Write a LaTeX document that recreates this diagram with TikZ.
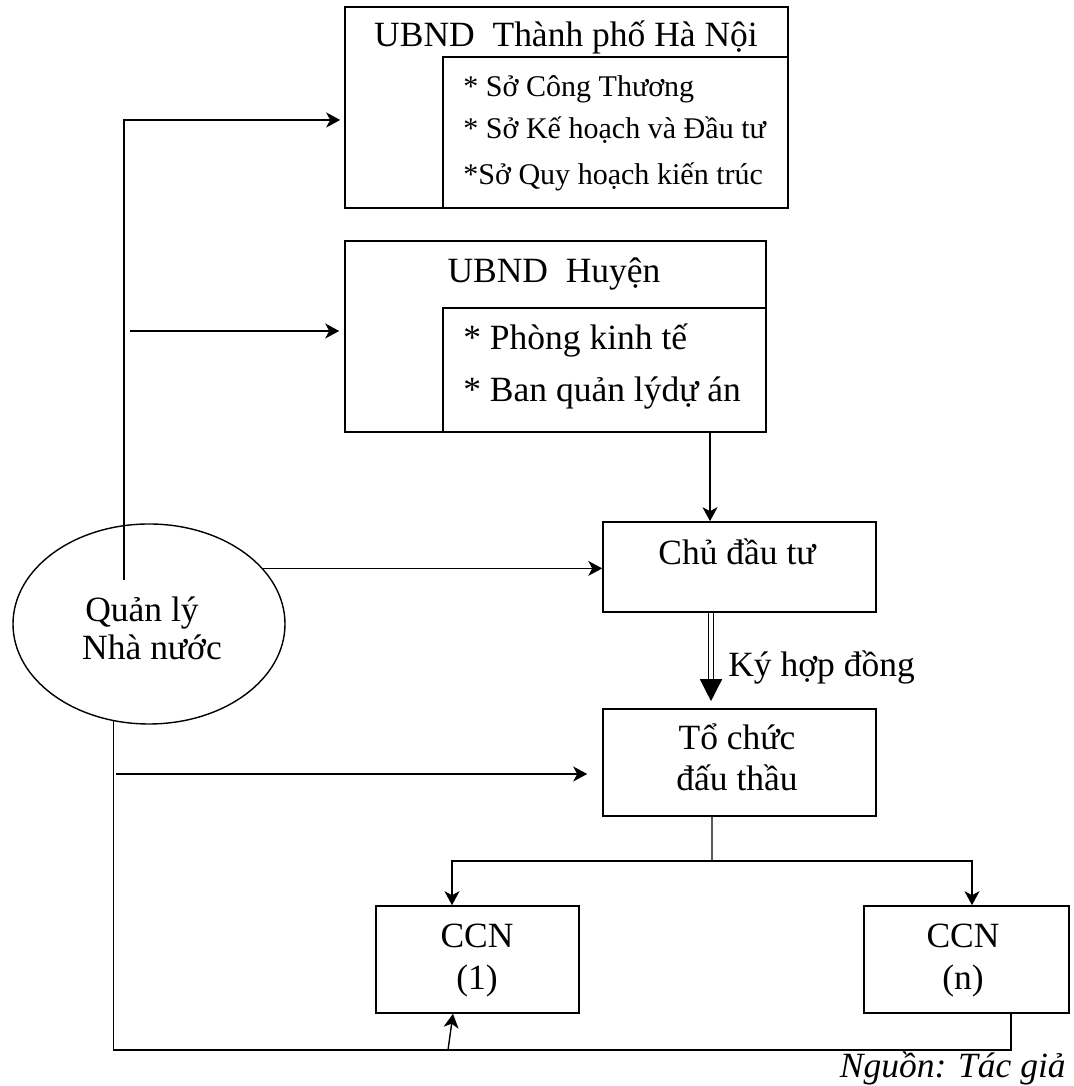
\documentclass[tikz,border=0pt]{standalone}
\usepackage{fontspec}
\setmainfont{Liberation Serif}
\usetikzlibrary{positioning}
\usetikzlibrary{shapes.geometric, arrows.meta}

\begin{document}
\begin{tikzpicture}[
  box/.style={draw, line width=0.9pt, rectangle, inner sep=0pt},
  txt/.style={font=\fontsize{20.2}{24}\selectfont, anchor=base, inner sep=0pt},
  subtxt/.style={font=\fontsize{17.1}{20}\selectfont, anchor=base west, inner sep=0pt},
  ln/.style={line width=0.8pt},
  arr/.style={line width=0.8pt, -{Stealth[length=0.28cm,width=0.3cm,inset=0.08cm]}},
  dblarr/.style={line width=0.8pt, double, double distance=0.08cm, -{Triangle[length=0.44cm,width=0.44cm]}}]
\useasboundingbox (0,0) rectangle (21.46,21.72);

% boxes
\node[box, minimum width=8.86cm, minimum height=4.02cm] (tp) at (11.33,19.57) {};
\node[box, minimum width=6.9cm, minimum height=3.02cm] (tpsub) at (12.31,19.07) {};
\node[box, minimum width=8.42cm, minimum height=3.82cm] (hy) at (11.11,14.99) {};
\node[box, minimum width=6.46cm, minimum height=2.48cm] (hysub) at (12.09,14.32) {};
\node[box, minimum width=5.46cm, minimum height=1.8cm] (chu) at (14.79,10.38) {};
\node[box, minimum width=5.46cm, minimum height=2.14cm] (tc) at (14.79,6.47) {};
\node[box, minimum width=4.06cm, minimum height=2.14cm] (ccn1) at (9.55,2.53) {};
\node[box, minimum width=4.1cm, minimum height=2.14cm] (ccnn) at (19.33,2.53) {};
\node[draw, line width=0.8pt, ellipse, minimum width=5.44cm, minimum height=4cm, inner sep=0pt] (ql) at (2.98,9.24) {};

% texts
\node[txt] (tptitle) at (11.32,20.78) {UBND\ \ Thành phố Hà Nội};
\node[subtxt] (tp1) at (9.26,19.78) {* Sở Công Thương};
\node[subtxt] (tp2) at (9.26,18.94) {* Sở Kế hoạch và Đầu tư};
\node[subtxt] (tp3) at (9.26,18.02) {*Sở Quy hoạch kiến trúc};
\node[txt] (hytitle) at (11.08,16.06) {UBND\ \ Huyện};
\node[txt, anchor=base west] (hy1) at (9.26,14.72) {* Phòng kinh tế};
\node[txt, anchor=base west] (hy2) at (9.26,13.68) {* Ban quản lýdự án};
\node[txt] (chutxt) at (14.74,10.42) {Chủ đầu tư};
\node[txt, anchor=base west] (kyhd) at (14.56,8.18) {Ký hợp đồng};
\node[txt] (tc1) at (14.74,6.72) {Tổ chức};
\node[txt] (tc2) at (14.74,5.90) {đấu thầu};
\node[txt] (ccn1a) at (9.54,2.76) {CCN};
\node[txt] (ccn1b) at (9.54,1.92) {(1)};
\node[txt] (ccnna) at (19.26,2.76) {CCN};
\node[txt] (ccnnb) at (19.26,1.92) {(n)};
\node[txt] (ql1) at (2.84,9.28) {Quản lý};
\node[txt] (ql2) at (3.04,8.52) {Nhà nước};
\node[txt, anchor=base east, font=\fontsize{20.2}{24}\selectfont\itshape] (src) at (21.32,0.16) {Nguồn: Tác giả};

% connectors
\coordinate (q1) at (2.48,10.12);
\coordinate (h1) at (2.6,15.1);
\coordinate (h2) at (2.32,6.24);
\coordinate (split) at (14.24,4.5);
\coordinate (bot) at (0,0.72);
\coordinate (c1) at (8.96,0.72);
\draw[arr, shorten >=0.08cm] (q1) |- ([yshift=-0.25cm]tp.west);
\draw[arr, shorten >=0.1cm] (h1) -- (h1 -| hy.west);
\draw[arr] (ql.26) -- (ql.26 -| chu.west);
\draw[arr, shorten >=0.3cm] (h2) -- (h2 -| tc.west);
\draw[arr] ([xshift=-0.59cm]chu.north |- hy.south) -- ([xshift=-0.59cm]chu.north);
\draw[dblarr, shorten >=0.14cm] ([xshift=-0.57cm]chu.south) -- ([xshift=-0.57cm]tc.north);
\draw[ln] ([xshift=-0.55cm]tc.south) -- (split);
\draw[arr] (split) -| ([xshift=-0.51cm]ccn1.north);
\draw[arr] (split) -| ([xshift=0.11cm]ccnn.north);
\draw[ln] (ql.250) |- ([xshift=0.89cm]ccnn.south |- bot) -- ([xshift=0.89cm]ccnn.south);
\draw[arr] (c1) -- ([xshift=-0.49cm]ccn1.south);

\end{tikzpicture}
\end{document}
